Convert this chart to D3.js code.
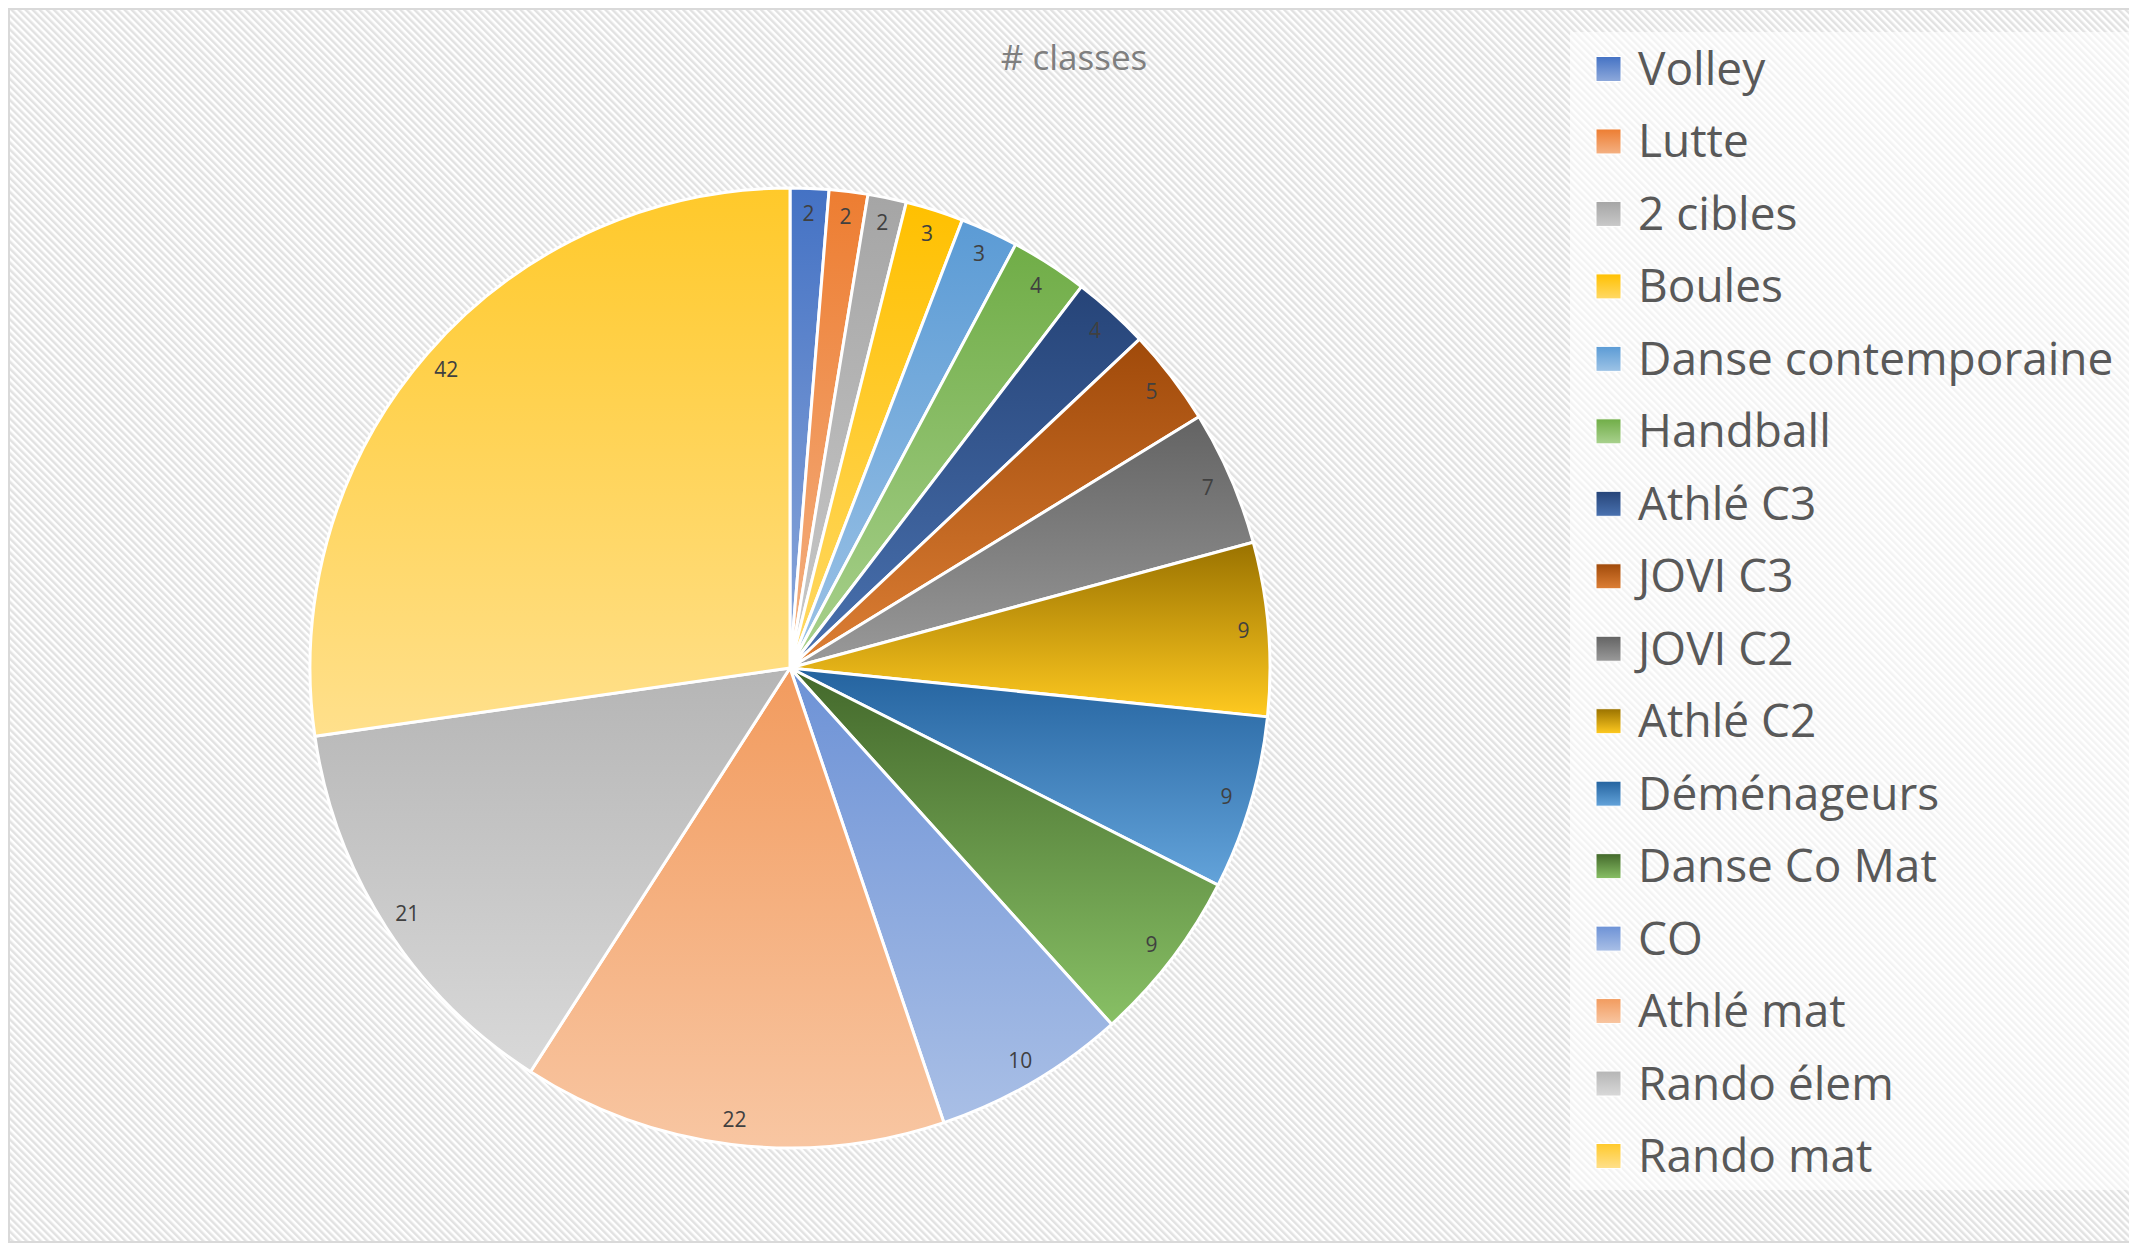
<!DOCTYPE html>
<html lang="fr">
<head>
    <meta charset="UTF-8">
    <title># classes</title>
    <script src="https://d3js.org/d3.v7.min.js"></script>
    <style>
        body { margin: 0; background: #fff; }
        svg { display: block; }
        text { font-family: "Open Sans", Lato, sans-serif; }
    </style>
</head>
<body>
    <svg id="chart"></svg>
    <script>
        // data
        const categories = ["Volley", "Lutte", "2 cibles", "Boules", "Danse contemporaine", "Handball",
            "Athlé C3", "JOVI C3", "JOVI C2", "Athlé C2", "Déménageurs", "Danse Co Mat", "CO",
            "Athlé mat", "Rando élem", "Rando mat"];
        const values = [2, 2, 2, 3, 3, 4, 4, 5, 7, 9, 9, 9, 10, 22, 21, 42];
        const title = "# classes";

        // gradient colours, top -> bottom of each slice
        const topColors = ["#4472c4", "#ed7d31", "#a5a5a5", "#ffc000", "#5b9bd5", "#70ad47",
            "#264478", "#a04a0a", "#636363", "#9a7200", "#24639f", "#43682b", "#6d92d6",
            "#f29b5e", "#b5b5b5", "#ffc92a"];
        const bottomColors = ["#8ea9db", "#f4b183", "#c9c9c9", "#ffd966", "#9dc3e6", "#a9d18e",
            "#4a72b0", "#dd7f35", "#9a9a9a", "#ffca20", "#63a3da", "#88c065", "#a9bfe6",
            "#f8c6a2", "#d9d9d9", "#ffe08c"];

        const width = 2129;
        const height = 1247;

        const svg = d3.select("#chart")
            .attr("width", width)
            .attr("height", height);

        const defs = svg.append("defs");

        // diagonal hatch background
        const hatch = defs.append("pattern")
            .attr("id", "hatch")
            .attr("patternUnits", "userSpaceOnUse")
            .attr("width", 5)
            .attr("height", 5)
            .attr("patternTransform", "rotate(-45)");
        hatch.append("rect").attr("width", 5).attr("height", 5).attr("fill", "#ffffff");
        hatch.append("rect").attr("width", 2.5).attr("height", 5).attr("fill", "#e2e2e2");

        categories.forEach((c, i) => {
            const g = defs.append("linearGradient")
                .attr("id", "grad" + i)
                .attr("x1", 0).attr("y1", 0)
                .attr("x2", 0).attr("y2", 1);
            g.append("stop").attr("offset", "0%").attr("stop-color", topColors[i]);
            g.append("stop").attr("offset", "100%").attr("stop-color", bottomColors[i]);
        });

        // chart area
        svg.append("rect")
            .attr("x", 9).attr("y", 9)
            .attr("width", width + 20).attr("height", height - 14)
            .attr("fill", "url(#hatch)")
            .attr("stroke", "#d9d9d9")
            .attr("stroke-width", 2);

        svg.append("text")
            .attr("x", 1074)
            .attr("y", 70)
            .attr("text-anchor", "middle")
            .attr("font-size", 35)
            .attr("fill", "#7f7f7f")
            .text(title);

        // pie
        const cx = 790, cy = 668, radius = 480;
        const data = categories.map((c, i) => ({ name: c, value: values[i], i: i }));

        const pie = d3.pie().sort(null).value(d => d.value);
        const arc = d3.arc().innerRadius(0).outerRadius(radius);
        const labelArc = d3.arc().innerRadius(455).outerRadius(455);

        const pieGroup = svg.append("g").attr("transform", `translate(${cx},${cy})`);
        const arcs = pie(data);

        pieGroup.selectAll("path")
            .data(arcs)
            .enter()
            .append("path")
            .attr("d", arc)
            .attr("fill", d => `url(#grad${d.data.i})`)
            .attr("stroke", "#ffffff")
            .attr("stroke-width", 3)
            .attr("stroke-linejoin", "round");

        pieGroup.selectAll("text")
            .data(arcs)
            .enter()
            .append("text")
            .attr("transform", d => `translate(${labelArc.centroid(d)})`)
            .attr("text-anchor", "middle")
            .attr("dy", "0.35em")
            .attr("font-size", 21)
            .attr("fill", "#404040")
            .text(d => d.data.value);

        // legend
        svg.append("rect")
            .attr("x", 1570).attr("y", 32)
            .attr("width", 600).attr("height", 1158)
            .attr("fill", "#ffffff")
            .attr("fill-opacity", 0.6);

        const legendY = d3.scalePoint()
            .domain(categories)
            .range([69, 1156]);

        const legend = svg.append("g")
            .selectAll("g")
            .data(data)
            .enter()
            .append("g")
            .attr("transform", d => `translate(1596,${legendY(d.name)})`);

        legend.append("rect")
            .attr("x", 0).attr("y", -12.5)
            .attr("width", 25).attr("height", 25)
            .attr("fill", d => `url(#grad${d.i})`)
            .attr("stroke", "#ffffff")
            .attr("stroke-width", 1);

        legend.append("text")
            .attr("x", 42)
            .attr("y", 16)
            .attr("font-size", 46)
            .attr("fill", "#595959")
            .text(d => d.name);
    </script>
</body>
</html>
